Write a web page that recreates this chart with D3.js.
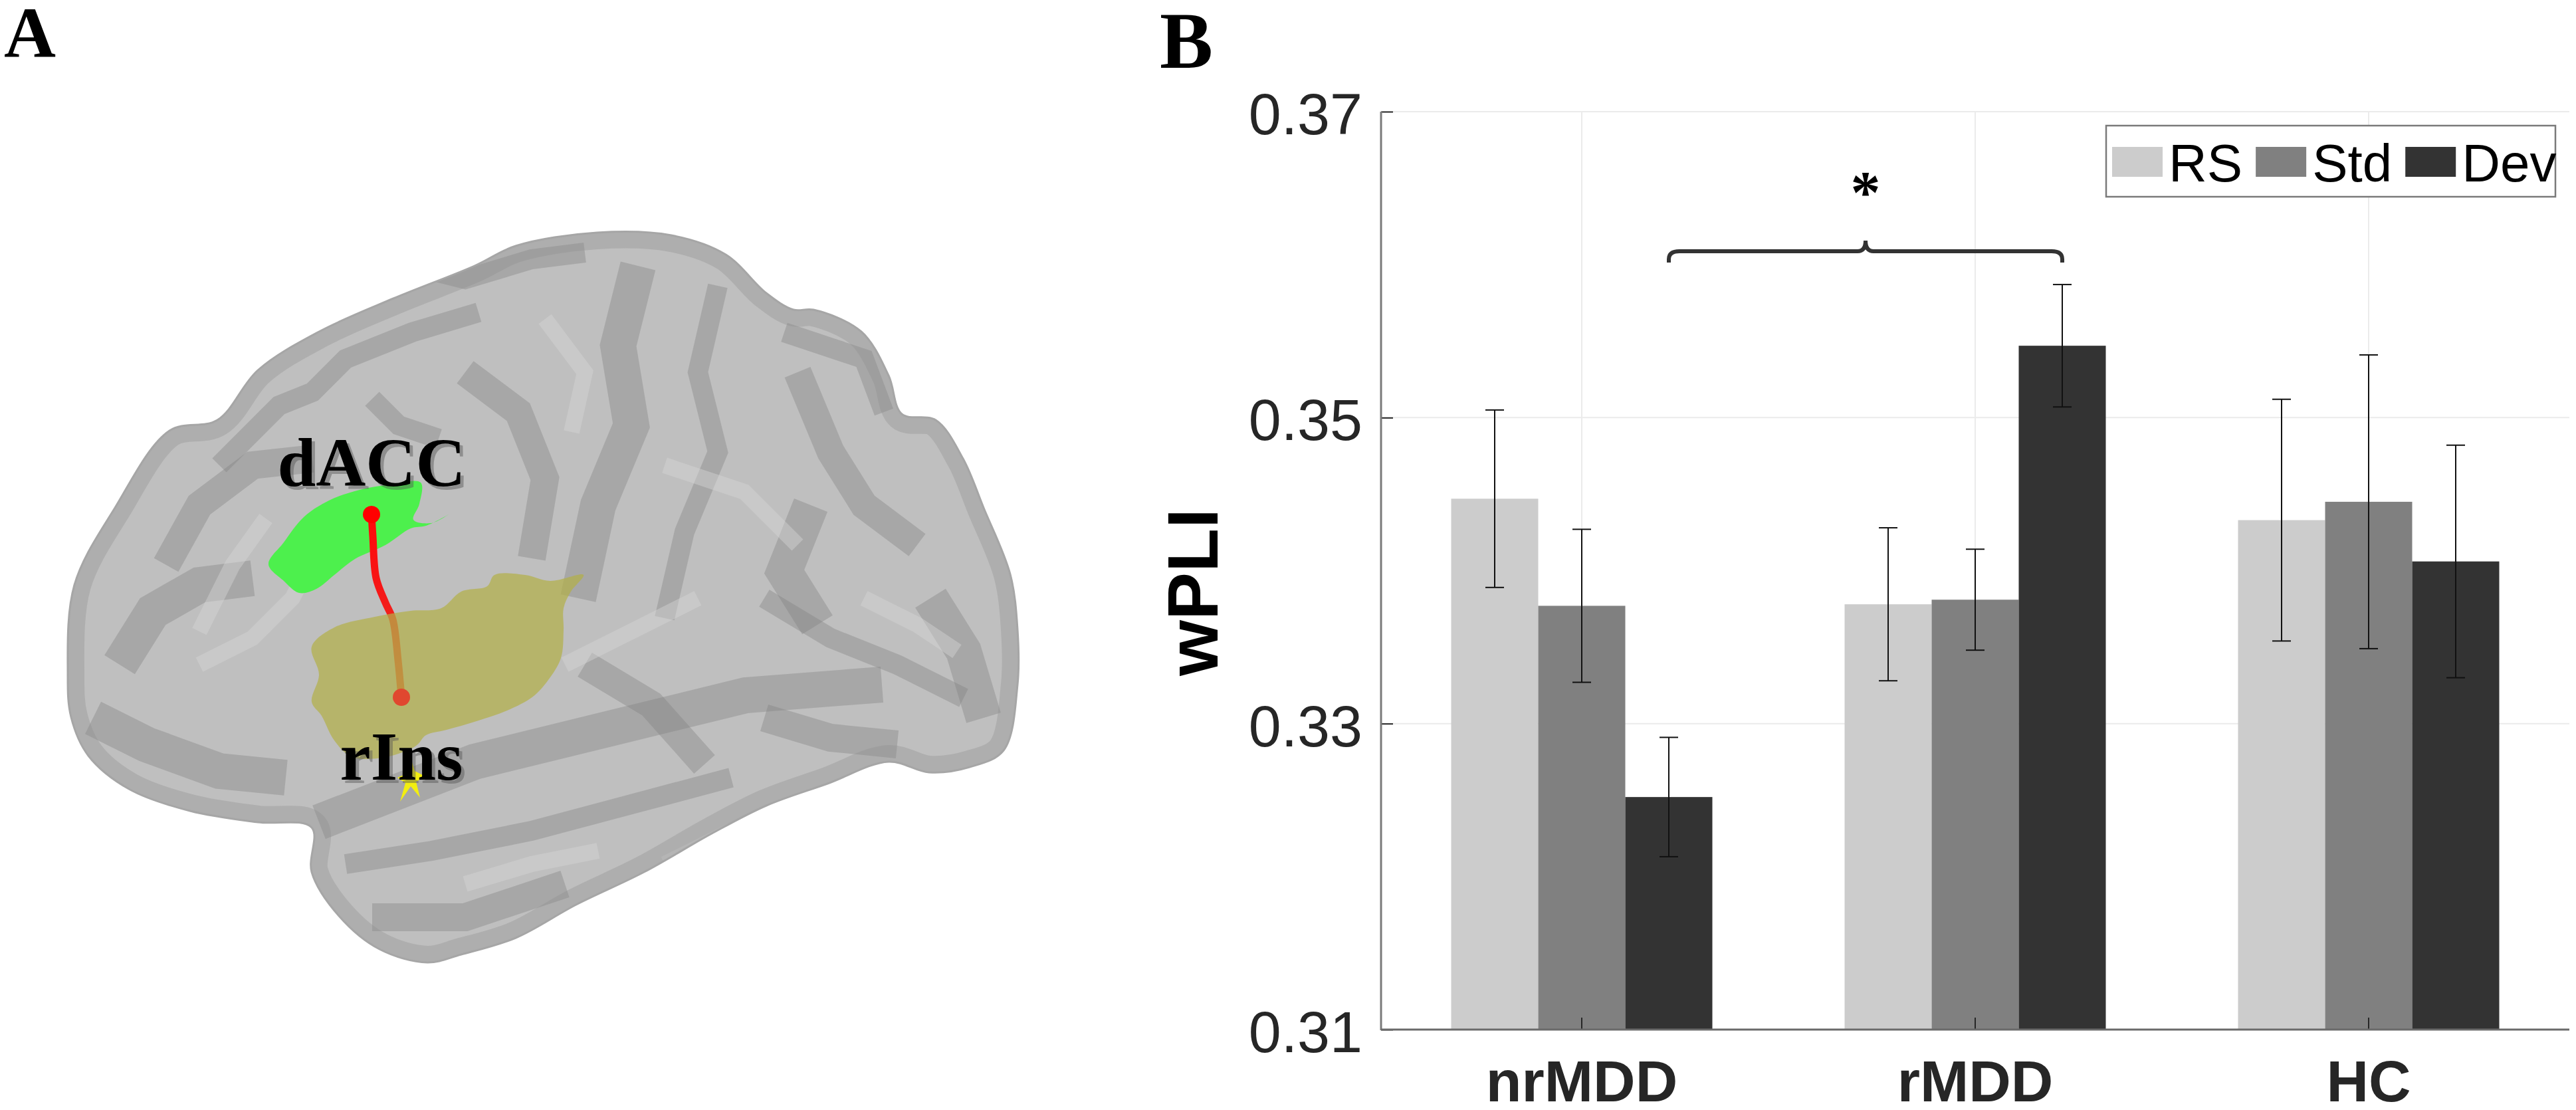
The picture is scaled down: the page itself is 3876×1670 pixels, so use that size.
<!DOCTYPE html>
<html>
<head>
<meta charset="utf-8">
<script src="https://cdn.jsdelivr.net/npm/d3@7"></script>
<style>
  body { margin: 0; background: #fff; }
  svg { display: block; }
</style>
</head>
<body>
<svg id="stage" width="3876" height="1670"></svg>
<script>
// ---- chart data (panel B) ----
var groups = ["nrMDD", "rMDD", "HC"];
var conditions = ["RS", "Std", "Dev"];
var rsMean  = [0.3447, 0.3378, 0.3433];
var stdMean = [0.3377, 0.3381, 0.3445];
var devMean = [0.3252, 0.3547, 0.3406];
var rsErr   = [0.0058, 0.0050, 0.0079];
var stdErr  = [0.0050, 0.0033, 0.0096];
var devErr  = [0.0039, 0.0040, 0.0076];
var yTicks  = [0.31, 0.33, 0.35, 0.37];
var sigPair = ["nrMDD", "rMDD"];   // bracket between the Dev bars
var sigLabel = "*";

// ---- panel A outlines (illustration, reference pixel space) ----
var brainOutline = [[102,1013],[112,880],[173,764],[255,648],[327,632],[388,557],[480,499],[592,449],
  [714,400],[776,370],[898,350],[1010,354],[1092,383],[1153,441],[1194,466],[1224,466],[1296,499],
  [1337,565],[1357,623],[1408,632],[1449,690],[1480,764],[1520,864],[1531,947],[1531,1030],[1510,1129],
  [1459,1154],[1398,1162],[1337,1146],[1245,1179],[1153,1212],[1071,1254],[969,1312],[867,1361],
  [776,1411],[694,1436],[643,1448],[571,1428],[510,1378],[469,1312],[469,1245],[388,1237],[286,1220],
  [194,1187],[133,1137],[107,1079]];
var daccOutline = [[404,849],[427,816],[457,778],[495,753],[541,737],[587,729],[633,726],[631,758],
  [622,782],[649,787],[675,774],[641,791],[618,795],[580,820],[534,841],[503,865],[476,886],[450,892],[427,874]];
var insOutline = [[503,944],[564,928],[618,919],[664,915],[694,890],[733,882],[744,865],[790,865],
  [828,874],[878,865],[859,890],[848,915],[848,948],[844,990],[825,1023],[802,1048],[763,1069],
  [717,1085],[672,1098],[641,1106],[626,1122],[580,1139],[530,1139],[503,1114],[484,1077],[469,1056],
  [480,1015],[469,973]];
var tract = [[559,774],[561,807],[566,870],[580,907],[591,932],[599,994],[604,1049]];
var spike = [[617,1137],[624,1160],[640,1168],[626,1176],[632,1200],[618,1183],[602,1206],[610,1178],[598,1170],[614,1163]];
var darkFolds = [
  [[330,700],[420,610],[470,590],[520,540],[620,500],[720,470]],
  [[250,850],[300,760],[380,700],[470,690]],
  [[180,1000],[230,920],[300,880],[380,870]],
  [[520,1300],[650,1280],[800,1250],[950,1210],[1100,1170]],
  [[560,1380],[700,1380],[850,1330]],
  [[960,400],[930,520],[950,640],[900,760],[870,900]],
  [[1080,430],[1050,560],[1080,680],[1030,800],[1000,930]],
  [[1200,560],[1250,680],[1300,760],[1380,820]],
  [[1400,900],[1450,980],[1480,1080]],
  [[1150,900],[1250,960],[1350,1000],[1450,1050]],
  [[700,560],[780,620],[820,720],[800,840]],
  [[140,1080],[220,1120],[330,1160],[430,1170]],
  [[620,400],[700,420],[800,390],[880,380]],
  [[1150,1080],[1250,1110],[1350,1120]],
  [[480,1237],[714,1146],[918,1096],[1122,1046],[1327,1030]],
  [[1180,500],[1300,540],[1330,620]],
  [[880,1000],[980,1060],[1060,1150]],
  [[1220,760],[1180,860],[1230,940]],
  [[660,660],[600,640],[560,600]]
];
var lightFolds = [
  [[300,1000],[380,960],[440,900],[480,820]],
  [[850,1000],[950,950],[1050,900]],
  [[1000,1300],[1100,1250],[1200,1220]],
  [[400,780],[350,850],[300,950]],
  [[1000,700],[1120,740],[1200,820]],
  [[700,1330],[800,1300],[900,1280]],
  [[1300,900],[1380,940],[1440,980]],
  [[820,480],[880,560],[860,650]]
];

var svg = d3.select("#stage");
svg.append("rect").attr("width", 3876).attr("height", 1670).attr("fill", "#fff");

var defs = svg.append("defs");
var closedLine = d3.line().curve(d3.curveCatmullRomClosed.alpha(0.5));
var foldLine = d3.line().curve(d3.curveLinear);

// ================= Panel A =================
var panelA = svg.append("g");

defs.append("clipPath").attr("id", "brainClip")
  .append("path").attr("d", closedLine(brainOutline));

panelA.append("path")
  .attr("d", closedLine(brainOutline))
  .attr("fill", "#bfbfbf");

var folds = panelA.append("g").attr("clip-path", "url(#brainClip)");
folds.selectAll(".dark").data(darkFolds).enter().append("path")
  .attr("d", foldLine)
  .attr("fill", "none")
  .attr("stroke", "#808080")
  .attr("stroke-opacity", 0.38)
  .attr("stroke-width", function(d, i){ return 30 + (i % 3) * 12; })
  .attr("stroke-linecap", "butt")
  .attr("stroke-linejoin", "miter");
folds.selectAll(".light").data(lightFolds).enter().append("path")
  .attr("d", foldLine)
  .attr("fill", "none")
  .attr("stroke", "#d4d4d4")
  .attr("stroke-opacity", 0.45)
  .attr("stroke-width", 24)
  .attr("stroke-linecap", "butt");
// soft darker rim
folds.append("path")
  .attr("d", closedLine(brainOutline))
  .attr("fill", "none")
  .attr("stroke", "#8f8f8f")
  .attr("stroke-opacity", 0.35)
  .attr("stroke-width", 50);
panelA.append("path")
  .attr("d", closedLine(brainOutline))
  .attr("fill", "none")
  .attr("stroke", "#a6a6a6")
  .attr("stroke-width", 3);

panelA.append("path")
  .attr("d", closedLine(daccOutline))
  .attr("fill", "#4df04d");

var grad = defs.append("linearGradient").attr("id", "tractGrad")
  .attr("x1", 0).attr("y1", 0).attr("x2", 0).attr("y2", 1);
grad.append("stop").attr("offset", "0%").attr("stop-color", "#ff0a0a");
grad.append("stop").attr("offset", "45%").attr("stop-color", "#f51818");
grad.append("stop").attr("offset", "100%").attr("stop-color", "#dc4a30");

panelA.append("path")
  .attr("d", d3.line().curve(d3.curveCatmullRom)(tract))
  .attr("fill", "none")
  .attr("stroke", "url(#tractGrad)")
  .attr("stroke-width", 11)
  .attr("stroke-linecap", "round");

panelA.append("path")
  .attr("d", closedLine(insOutline))
  .attr("fill", "#b3b04a")
  .attr("fill-opacity", 0.72);

panelA.append("path")
  .attr("d", "M" + spike.join("L") + "Z")
  .attr("fill", "#f2ee10");

panelA.selectAll(".node").data([tract[0], tract[tract.length - 1]]).enter().append("circle")
  .attr("cx", function(d){ return d[0]; })
  .attr("cy", function(d){ return d[1]; })
  .attr("r", 13)
  .attr("fill", function(d, i){ return i === 0 ? "#ff0000" : "#e0472f"; });

var roiLabels = [
  {text: "dACC", x: tract[0][0], y: 731},
  {text: "rIns", x: tract[tract.length - 1][0], y: 1173}
];
[["#555", 5, 5, 0.45], ["#000", 0, 0, 1]].forEach(function(s){
  panelA.selectAll(null).data(roiLabels).enter().append("text")
    .attr("x", function(d){ return d.x + s[1]; })
    .attr("y", function(d){ return d.y + s[2]; })
    .attr("text-anchor", "middle")
    .attr("font-family", "'Liberation Serif', 'Times New Roman', serif")
    .attr("font-weight", "bold")
    .attr("font-size", 104)
    .attr("fill", s[0])
    .attr("opacity", s[3])
    .text(function(d){ return d.text; });
});

svg.append("text").attr("x", 6).attr("y", 86)
  .attr("font-family", "'Liberation Serif', 'Times New Roman', serif")
  .attr("font-weight", "bold").attr("font-size", 108).text("A");
svg.append("text").attr("x", 1745).attr("y", 102)
  .attr("font-family", "'Liberation Serif', 'Times New Roman', serif")
  .attr("font-weight", "bold").attr("font-size", 120).text("B");

// ================= Panel B =================
var axLeft = 2078, axRight = 3866, axTop = 168, axBottom = 1549;

var y = d3.scaleLinear().domain([yTicks[0], yTicks[yTicks.length - 1]]).range([axBottom, axTop]);
var x0 = d3.scaleBand().domain(groups).range([2084, 3860]);
var x1 = d3.scaleBand().domain(conditions).range([-196.5, 196.5]);
var color = d3.scaleOrdinal().domain(conditions).range(["#cccccc", "#808080", "#333333"]);

var series = {
  RS:  {mean: rsMean,  err: rsErr},
  Std: {mean: stdMean, err: stdErr},
  Dev: {mean: devMean, err: devErr}
};
var barData = [];
groups.forEach(function(g, gi){
  conditions.forEach(function(c){
    barData.push({group: g, cond: c, mean: series[c].mean[gi], err: series[c].err[gi]});
  });
});
function cx(d){ return x0(d.group) + x0.bandwidth() / 2 + x1(d.cond) + x1.bandwidth() / 2; }

var plot = svg.append("g");

// grid
plot.selectAll(".hgrid").data(yTicks).enter().append("line")
  .attr("x1", axLeft).attr("x2", axRight)
  .attr("y1", function(d){ return y(d); }).attr("y2", function(d){ return y(d); })
  .attr("stroke", "#ebebeb").attr("stroke-width", 2);
plot.selectAll(".vgrid").data(groups).enter().append("line")
  .attr("x1", function(d){ return x0(d) + x0.bandwidth() / 2; })
  .attr("x2", function(d){ return x0(d) + x0.bandwidth() / 2; })
  .attr("y1", axTop).attr("y2", axBottom)
  .attr("stroke", "#ebebeb").attr("stroke-width", 2);

// bars
plot.selectAll(".bar").data(barData).enter().append("rect")
  .attr("x", function(d){ return x0(d.group) + x0.bandwidth() / 2 + x1(d.cond); })
  .attr("width", x1.bandwidth())
  .attr("y", function(d){ return y(d.mean); })
  .attr("height", function(d){ return axBottom - y(d.mean); })
  .attr("fill", function(d){ return color(d.cond); });

// error bars
var capHalf = 14;
var eb = plot.selectAll(".err").data(barData).enter().append("g")
  .attr("stroke", "#111").attr("stroke-width", 2);
eb.append("line")
  .attr("x1", cx).attr("x2", cx)
  .attr("y1", function(d){ return y(d.mean + d.err); })
  .attr("y2", function(d){ return y(d.mean - d.err); });
eb.append("line")
  .attr("x1", function(d){ return cx(d) - capHalf; }).attr("x2", function(d){ return cx(d) + capHalf; })
  .attr("y1", function(d){ return y(d.mean + d.err); }).attr("y2", function(d){ return y(d.mean + d.err); });
eb.append("line")
  .attr("x1", function(d){ return cx(d) - capHalf; }).attr("x2", function(d){ return cx(d) + capHalf; })
  .attr("y1", function(d){ return y(d.mean - d.err); }).attr("y2", function(d){ return y(d.mean - d.err); });

// axes
var yAxis = d3.axisLeft(y).tickValues(yTicks).tickFormat(d3.format(".2f"))
  .tickSize(-18).tickSizeOuter(0).tickPadding(28);
var gy = plot.append("g").attr("transform", "translate(" + axLeft + ",0)").call(yAxis);
gy.select(".domain").remove();
gy.selectAll(".tick line").attr("stroke", "#262626").attr("stroke-width", 2);
gy.selectAll(".tick text")
  .attr("font-family", "'Liberation Sans', Arial, sans-serif")
  .attr("font-size", 88).attr("fill", "#262626").attr("dy", "0.38em");

var xAxis = d3.axisBottom(x0).tickSize(-18).tickSizeOuter(0).tickPadding(46);
var gx = plot.append("g").attr("transform", "translate(0," + axBottom + ")").call(xAxis);
gx.select(".domain").remove();
gx.selectAll(".tick line").attr("stroke", "#262626").attr("stroke-width", 2);
gx.selectAll(".tick text")
  .attr("font-family", "'Liberation Sans', Arial, sans-serif")
  .attr("font-weight", "bold")
  .attr("font-size", 88).attr("fill", "#262626");

plot.append("line").attr("x1", axLeft).attr("x2", axLeft).attr("y1", axTop).attr("y2", axBottom + 1)
  .attr("stroke", "#7a7a7a").attr("stroke-width", 3);
plot.append("line").attr("x1", axLeft).attr("x2", axRight).attr("y1", axBottom).attr("y2", axBottom)
  .attr("stroke", "#6a6a6a").attr("stroke-width", 3);

plot.append("text")
  .attr("transform", "translate(1832,891) rotate(-90)")
  .attr("text-anchor", "middle")
  .attr("font-family", "'Liberation Sans', Arial, sans-serif")
  .attr("font-weight", "bold").attr("font-size", 108).attr("fill", "#000")
  .text("wPLI");

// significance brace between the Dev bars
var bx1 = x0(sigPair[0]) + x0.bandwidth() / 2 + x1("Dev") + x1.bandwidth() / 2;
var bx2 = x0(sigPair[1]) + x0.bandwidth() / 2 + x1("Dev") + x1.bandwidth() / 2;
var bm = (bx1 + bx2) / 2;
var gi1 = groups.indexOf(sigPair[1]);
var by = y(devMean[gi1] + devErr[gi1]) - 50;
var braceD = "M" + bx1 + "," + (by + 17) +
  " L" + bx1 + "," + (by + 12) +
  " Q" + bx1 + "," + by + " " + (bx1 + 16) + "," + by +
  " L" + (bm - 12) + "," + by +
  " Q" + bm + "," + by + " " + bm + "," + (by - 16) +
  " Q" + bm + "," + by + " " + (bm + 12) + "," + by +
  " L" + (bx2 - 16) + "," + by +
  " Q" + bx2 + "," + by + " " + bx2 + "," + (by + 12) +
  " L" + bx2 + "," + (by + 17);
plot.append("path").attr("d", braceD)
  .attr("fill", "none").attr("stroke", "#333").attr("stroke-width", 6);
plot.append("text").attr("x", bm).attr("y", by - 58)
  .attr("text-anchor", "middle")
  .attr("font-family", "'Liberation Serif', 'Times New Roman', serif")
  .attr("font-weight", "bold")
  .attr("font-size", 90).attr("fill", "#000")
  .text(sigLabel);

// legend
var legend = plot.append("g");
legend.append("rect")
  .attr("x", 3169).attr("y", 189).attr("width", 676).attr("height", 107)
  .attr("fill", "#fff").attr("stroke", "#7a7a7a").attr("stroke-width", 2.5);
var lx = 3178;
conditions.forEach(function(c){
  legend.append("rect").attr("x", lx).attr("y", 221).attr("width", 76).attr("height", 45)
    .attr("fill", color(c));
  var t = legend.append("text").attr("x", lx + 85).attr("y", 273)
    .attr("font-family", "'Liberation Sans', Arial, sans-serif")
    .attr("font-size", 80).attr("fill", "#000").text(c);
  lx = lx + 85 + t.node().getComputedTextLength() + 20;
});
</script>
</body>
</html>
